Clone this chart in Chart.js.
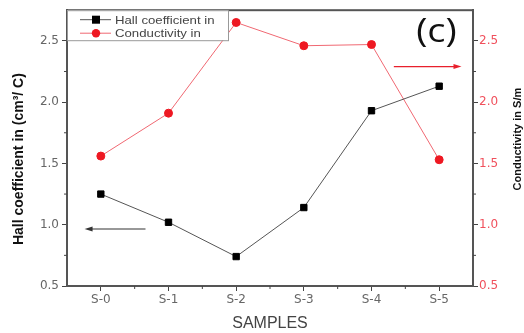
<!DOCTYPE html>
<html>
<head>
<meta charset="utf-8">
<script src="https://cdn.jsdelivr.net/npm/chart.js@4.4.1/dist/chart.umd.min.js"></script>
<style>
  html, body { margin: 0; padding: 0; background: #fff; }
  #wrap { width: 524px; height: 333px; }
</style>
</head>
<body>
<div id="wrap"><canvas id="myChart" width="524" height="333"></canvas></div>
<script>
// data
const samples = ['S-0', 'S-1', 'S-2', 'S-3', 'S-4', 'S-5'];
const hallCoefficient = [1.25, 1.02, 0.74, 1.14, 1.93, 2.13];
const conductivity = [1.56, 1.91, 2.65, 2.46, 2.47, 1.53];
const yTicks = [0.5, 1.0, 1.5, 2.0, 2.5];
const yMinorTicks = [0.75, 1.25, 1.75, 2.25];
const legendLabels = ['Hall coefficient in', 'Conductivity in'];
const leftTitle = 'Hall coefficient in (cm³/ C)';
const rightTitle = 'Conductivity in S/m';

// arrows: [xFrom, xTo, y, axis] in category index / value units
const leftArrow = [0.66, -0.24, 0.965, 'y'];
const rightArrow = [4.33, 5.33, 2.29, 'y1'];

const frame = {
    id: 'frame',
    afterDraw(chart) {
        const { ctx, chartArea: a, scales } = chart;
        const x = scales.x, y = scales.y, y1 = scales.y1;
        ctx.save();

        // frame around plot
        ctx.strokeStyle = '#555';
        ctx.lineWidth = 2;
        ctx.strokeRect(a.left, a.top, a.right - a.left, a.bottom - a.top);

        // minor ticks
        ctx.lineWidth = 1;
        ctx.strokeStyle = '#444';
        ctx.beginPath();
        yMinorTicks.forEach(v => {
            const py = y.getPixelForValue(v);
            ctx.moveTo(a.left, py); ctx.lineTo(a.left - 3, py);
            const py1 = y1.getPixelForValue(v);
            ctx.moveTo(a.right, py1); ctx.lineTo(a.right + 3, py1);
        });
        for (let i = 0; i < samples.length - 1; i++) {
            const px = (x.getPixelForValue(i) + x.getPixelForValue(i + 1)) / 2;
            ctx.moveTo(px, a.bottom); ctx.lineTo(px, a.bottom + 3);
        }
        ctx.stroke();

        // axis titles (rotated)
        ctx.fillStyle = '#111';
        ctx.textAlign = 'center';
        ctx.textBaseline = 'middle';
        ctx.save();
        ctx.translate(19, (a.top + a.bottom) / 2 + 11);
        ctx.rotate(-Math.PI / 2);
        ctx.font = 'bold 14px "Liberation Sans", Arial, sans-serif';
        ctx.fillText(leftTitle, 0, 0);
        ctx.restore();
        ctx.save();
        ctx.translate(518, (a.top + a.bottom) / 2 - 9);
        ctx.rotate(-Math.PI / 2);
        ctx.font = 'bold 11px "Liberation Sans", Arial, sans-serif';
        ctx.fillText(rightTitle, 0, 0);
        ctx.restore();

        // arrows
        const arrow = (spec, color) => {
            const sc = scales[spec[3]];
            const x0 = x.getPixelForValue(spec[0]);
            const x1 = x.getPixelForValue(spec[1]);
            const py = sc.getPixelForValue(spec[2]);
            const dir = x1 > x0 ? 1 : -1;
            ctx.strokeStyle = color;
            ctx.fillStyle = color;
            ctx.lineWidth = 1.2;
            ctx.beginPath();
            ctx.moveTo(x0, py); ctx.lineTo(x1 - dir * 5, py);
            ctx.stroke();
            ctx.beginPath();
            ctx.moveTo(x1, py);
            ctx.lineTo(x1 - dir * 8, py - 2.5);
            ctx.lineTo(x1 - dir * 8, py + 2.5);
            ctx.closePath();
            ctx.fill();
        };
        arrow(leftArrow, '#333');
        arrow(rightArrow, '#e8202c');

        // panel label, a bit wide like the source
        ctx.save();
        ctx.fillStyle = '#111';
        ctx.translate(x.getPixelForValue(4.96), y.getPixelForValue(2.57));
        ctx.scale(1.15, 1);
        ctx.font = '33px "Open Sans", sans-serif';
        ctx.fillText('(c)', 0, 0);
        ctx.restore();

        // legend box
        const lx = a.left, ly = a.top;
        ctx.fillStyle = '#fff';
        ctx.fillRect(lx, ly, 161, 30);
        ctx.strokeStyle = '#999';
        ctx.lineWidth = 1;
        ctx.strokeRect(lx + 0.5, ly + 0.5, 161, 30);
        chart.data.datasets.forEach((ds, i) => {
            const ry = ly + 9.5 + i * 13.5;
            ctx.strokeStyle = ds.borderColor;
            ctx.beginPath();
            ctx.moveTo(lx + 13, ry); ctx.lineTo(lx + 44, ry);
            ctx.stroke();
            ctx.fillStyle = ds.pointBackgroundColor;
            if (ds.pointStyle === 'rect') {
                ctx.fillRect(lx + 25, ry - 4, 8, 8);
            } else {
                ctx.beginPath();
                ctx.arc(lx + 29, ry, 4.2, 0, Math.PI * 2);
                ctx.fill();
            }
            ctx.save();
            ctx.fillStyle = '#444';
            ctx.translate(lx + 48, ry + 1);
            ctx.scale(1.2, 1);
            ctx.font = '11px "Liberation Sans", Arial, sans-serif';
            ctx.textAlign = 'left';
            ctx.fillText(legendLabels[i], 0, 0);
            ctx.restore();
        });
        ctx.restore();
    }
};

new Chart(document.getElementById('myChart'), {
    type: 'line',
    data: {
        labels: samples,
        datasets: [
            {
                label: legendLabels[0],
                data: hallCoefficient,
                yAxisID: 'y',
                borderColor: '#555',
                borderWidth: 1,
                pointStyle: 'rect',
                pointRadius: 4.5,
                pointBackgroundColor: '#000',
                pointBorderColor: '#000',
                tension: 0
            },
            {
                label: legendLabels[1],
                data: conductivity,
                yAxisID: 'y1',
                borderColor: '#f06872',
                borderWidth: 1,
                pointStyle: 'circle',
                pointRadius: 4,
                pointBackgroundColor: '#ee1822',
                pointBorderColor: '#ee1822',
                tension: 0
            }
        ]
    },
    options: {
        responsive: false,
        animation: false,
        layout: { padding: { top: 10, left: 0, right: 0, bottom: 0 } },
        plugins: { legend: { display: false }, tooltip: { enabled: false } },
        scales: {
            x: {
                type: 'category',
                offset: true,
                afterFit(scale) { scale.height = 47; },
                grid: { drawOnChartArea: false, tickLength: 5, color: '#444' },
                border: { display: true, color: '#555', width: 2 },
                ticks: { color: '#666', font: { size: 12, family: 'DejaVu Sans' }, padding: 2 },
                title: {
                    display: true, text: 'SAMPLES', color: '#444',
                    font: { size: 16, family: 'Liberation Sans' }, padding: { top: 2, bottom: 0 }
                }
            },
            y: {
                position: 'left',
                min: 0.5,
                max: 2.75,
                afterFit(scale) { scale.width = 67; },
                afterBuildTicks(scale) { scale.ticks = yTicks.map(v => ({ value: v })); },
                grid: { drawOnChartArea: false, tickLength: 5, color: '#444' },
                border: { display: true, color: '#555', width: 2 },
                ticks: {
                    color: '#666', font: { size: 12, family: 'DejaVu Sans' }, padding: 3,
                    callback: v => v.toFixed(1)
                }
            },
            y1: {
                position: 'right',
                min: 0.5,
                max: 2.75,
                afterFit(scale) { scale.width = 51; },
                afterBuildTicks(scale) { scale.ticks = yTicks.map(v => ({ value: v })); },
                grid: { drawOnChartArea: false, tickLength: 5, color: '#444' },
                border: { display: true, color: '#555', width: 2 },
                ticks: {
                    color: '#f0505c', font: { size: 12, family: 'DejaVu Sans' }, padding: 1,
                    callback: v => v.toFixed(1)
                }
            }
        }
    },
    plugins: [frame]
});
</script>
</body>
</html>
